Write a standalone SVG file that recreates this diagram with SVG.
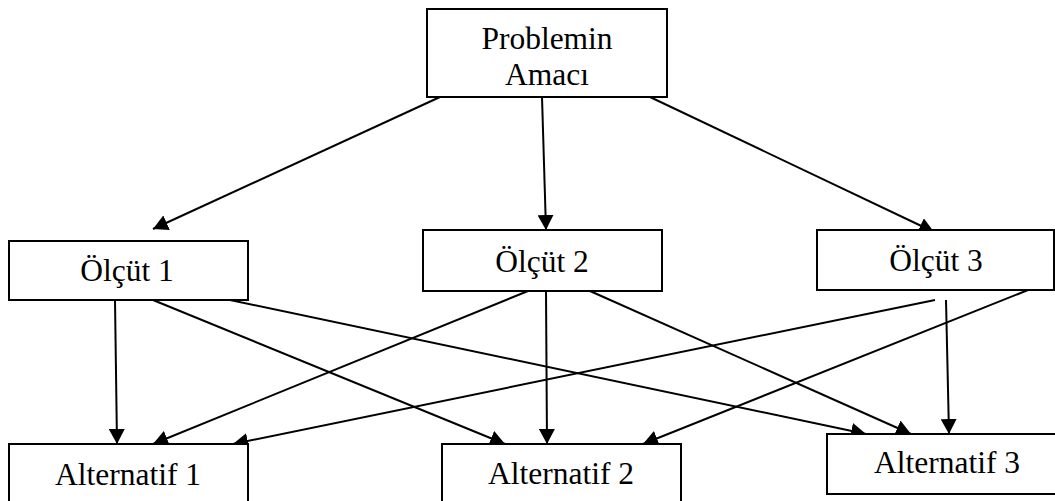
<svg xmlns="http://www.w3.org/2000/svg" width="1055" height="501" viewBox="0 0 1055 501">
<style>
.box{fill:#fff;stroke:#000;stroke-width:2}
.lbl{font-family:"Liberation Serif","Times New Roman",serif;font-size:31.5px;fill:#000;text-anchor:middle}
.con line{stroke:#000;stroke-width:2;marker-end:url(#ah)}
</style>
<defs>
<marker id="ah" markerUnits="userSpaceOnUse" markerWidth="15" markerHeight="16" refX="15" refY="8" orient="auto" viewBox="0 0 15 16">
<path d="M0,0 L15,8 L0,16 z" fill="#000"/>
</marker>
</defs>
<rect width="1055" height="501" fill="#fff"/>
<g id="connectors" class="con">
<line x1="440" y1="97" x2="153" y2="229"/>
<line x1="542" y1="97" x2="546" y2="230"/>
<line x1="650" y1="97" x2="934" y2="232"/>
<line x1="115" y1="300" x2="117" y2="444"/>
<line x1="153" y1="300" x2="505" y2="444"/>
<line x1="230" y1="300" x2="866" y2="434"/>
<line x1="528" y1="291" x2="153" y2="444"/>
<line x1="546" y1="291" x2="547" y2="444"/>
<line x1="590" y1="291" x2="911" y2="434"/>
<line x1="935" y1="300" x2="233" y2="444"/>
<line x1="946" y1="300" x2="949" y2="434"/>
<line x1="1028" y1="290" x2="643" y2="444"/>
</g>
<g id="goal">
<rect class="box" x="427" y="9" width="240" height="88"/>
<text class="lbl" x="547" y="49">Problemin</text>
<text class="lbl" x="547" y="85">Amacı</text>
</g>
<g id="olcut1">
<rect class="box" x="9" y="241" width="239" height="59"/>
<text class="lbl" x="127" y="281">Ölçüt 1</text>
</g>
<g id="olcut2">
<rect class="box" x="423" y="230" width="239" height="61"/>
<text class="lbl" x="542" y="272">Ölçüt 2</text>
</g>
<g id="olcut3">
<rect class="box" x="817" y="230" width="237" height="60"/>
<text class="lbl" x="936" y="271">Ölçüt 3</text>
</g>
<g id="alt1">
<rect class="box" x="9" y="444" width="239" height="70"/>
<text class="lbl" x="128" y="485">Alternatif 1</text>
</g>
<g id="alt2">
<rect class="box" x="442" y="444" width="239" height="70"/>
<text class="lbl" x="561" y="484">Alternatif 2</text>
</g>
<g id="alt3">
<rect class="box" x="827" y="434" width="240" height="60"/>
<text class="lbl" x="947" y="473">Alternatif 3</text>
</g>
</svg>
